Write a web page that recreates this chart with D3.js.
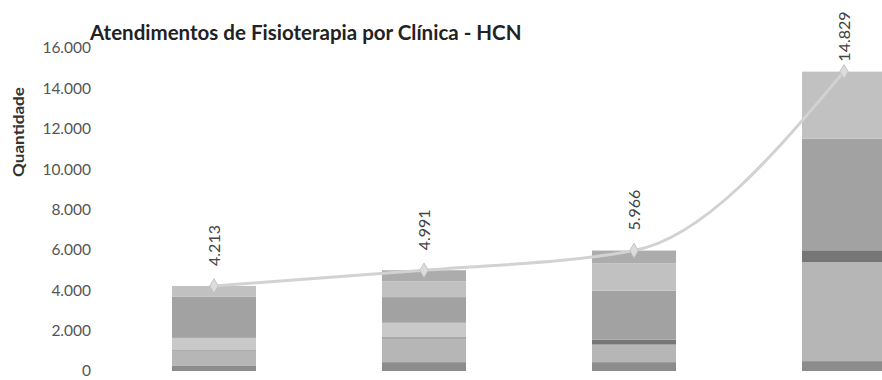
<!DOCTYPE html>
<html><head><meta charset="utf-8">
<script src="https://cdn.jsdelivr.net/npm/d3@7"></script>
<style>
html,body{margin:0;padding:0;background:#fff;}
svg{display:block;font-family:Lato,"Open Sans",sans-serif;}
</style></head>
<body>
<svg id="chart" width="882" height="380"></svg>
<script>
// ---- data ----
const categories = ["Período 1", "Período 2", "Período 3", "Período 4"];
const seriesNames = ["Clínica A", "Clínica B", "Clínica C", "Clínica D", "Clínica E", "Clínica F", "Clínica G"];
const clinicaA = [250, 440, 440, 490];
const clinicaB = [770, 1170, 870, 4900];
const clinicaC = [40, 60, 240, 590];
const clinicaD = [580, 720, 0, 0];
const clinicaE = [2050, 1270, 2430, 5530];
const clinicaF = [523, 780, 1356, 3319];
const clinicaG = [0, 551, 630, 0];
const totals = [4213, 4991, 5966, 14829];
const yTicks = [0, 2000, 4000, 6000, 8000, 10000, 12000, 14000, 16000];
const seriesColors = ["#8c8c8c", "#b6b6b6", "#767676", "#c9c9c9", "#a2a2a2", "#c1c1c1", "#acacac"];

const seriesValues = [clinicaA, clinicaB, clinicaC, clinicaD, clinicaE, clinicaF, clinicaG];
const rows = categories.map((c, i) => {
  const r = {cat: c};
  seriesNames.forEach((s, k) => r[s] = seriesValues[k][i]);
  return r;
});

const fmt = v => d3.format(",")(v).replace(/,/g, ".");

const svg = d3.select("#chart");
const x = d3.scaleBand().domain(categories).range([109, 949]).paddingInner(0.6).paddingOuter(0.3);
const y = d3.scaleLinear().domain([0, 16000]).range([371, 48]);

// y axis (labels only)
const yAxis = svg.append("g").attr("transform", "translate(93,0)")
  .call(d3.axisLeft(y).tickValues(yTicks).tickFormat(fmt).tickSize(0).tickPadding(2));
yAxis.select(".domain").remove();
yAxis.selectAll("text").attr("fill", "#555").style("font-size", "15.5px").style("font-family", "Lato,'Open Sans',sans-serif");

// y label
svg.append("text").attr("transform", "translate(24,132) rotate(-90)")
  .attr("text-anchor", "middle").attr("font-weight", "bold").attr("font-size", "16px").attr("fill", "#333")
  .attr("textLength", 90).attr("lengthAdjust", "spacingAndGlyphs")
  .text("Quantidade");

// title
svg.append("text").attr("x", 90).attr("y", 40).attr("font-weight", "bold").attr("font-size", "20.5px").attr("fill", "#222")
  .text("Atendimentos de Fisioterapia por Clínica - HCN");

// stacked bars
const stacked = d3.stack().keys(seriesNames)(rows);
svg.append("g").selectAll("g").data(stacked).join("g")
  .attr("fill", (d, i) => seriesColors[i])
  .selectAll("rect").data(d => d).join("rect")
  .attr("x", d => x(d.data.cat))
  .attr("width", x.bandwidth())
  .attr("y", d => y(d[1]))
  .attr("height", d => Math.max(0, y(d[0]) - y(d[1])));

// line through totals
const pts = categories.map((c, i) => ({cx: x(c) + x.bandwidth() / 2, v: totals[i]}));
const line = d3.line().x(d => d.cx).y(d => y(d.v)).curve(d3.curveMonotoneX);
svg.append("path").datum(pts).attr("d", line).attr("fill", "none")
  .attr("stroke", "#d2d2d2").attr("stroke-width", 3);
svg.append("g").selectAll("path").data(pts).join("path")
  .attr("transform", d => `translate(${d.cx},${y(d.v)})`)
  .attr("d", d3.symbol(d3.symbolDiamond, 60))
  .attr("fill", "#dcdcdc").attr("stroke", "#c4c4c4").attr("stroke-width", 1);

// value labels (rotated)
svg.append("g").selectAll("text").data(pts).join("text")
  .attr("transform", (d, i) => `translate(${d.cx},${y(d.v) - (i === 3 ? 10 : 20)}) rotate(-90)`)
  .attr("text-anchor", "start").attr("dy", "0.35em")
  .attr("font-size", "16px").attr("fill", "#444")
  .text(d => fmt(d.v));
</script>
</body></html>
